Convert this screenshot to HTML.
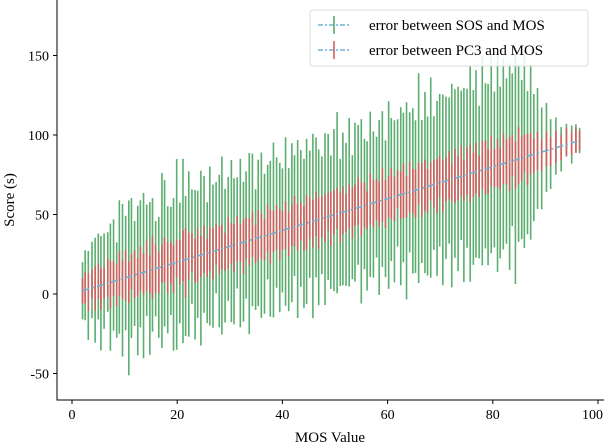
<!DOCTYPE html>
<html><head><meta charset="utf-8"><style>
body{margin:0;background:#fff;}
svg{display:block;font-family:"Liberation Serif",serif;}
</style></head><body>
<svg id="c" width="604" height="446"></svg>
<script>
const mosValues=[2,2.5,3.1,3.8,4.4,5,5.5,6.1,6.8,7.3,
7.9,8.5,9,9.6,10.2,10.8,11.3,11.9,12.5,13,
13.6,14.2,14.8,15.3,15.9,16.5,17.1,17.6,18.2,18.8,
19.3,19.9,20.5,21.1,21.6,22.2,22.8,23.4,23.9,24.5,
25.1,25.7,26.2,26.8,27.4,28,28.5,29.1,29.7,30.3,
30.8,31.4,32,32.6,33.1,33.7,34.3,34.9,35.4,36,
36.6,37.2,37.7,38.3,38.9,39.5,40,40.6,41.2,41.8,
42.3,42.9,43.5,44.1,44.6,45.2,45.8,46.4,46.9,47.5,
48.1,48.7,49.2,49.8,50.4,51,51.5,52.1,52.7,53.3,
53.8,54.4,55,55.6,56.1,56.7,57.3,57.9,58.4,59,
59.6,60.2,60.7,61.3,61.9,62.5,63,63.6,64.2,64.8,
65.3,65.9,66.5,67.1,67.6,68.2,68.8,69.4,69.9,70.5,
71.1,71.7,72.2,72.8,73.4,74,74.5,75.1,75.7,76.3,
76.8,77.4,78,78.6,79.1,79.7,80.3,80.9,81.4,82,
82.6,83.2,83.7,84.3,84.9,85.5,86,86.6,87.2,87.8,
88.5,89.3,90.2,91,92,93,94,95,95.8,96.5];
const centerOffset=[0,3,-4,5,-2,6,-5,2,7,-3,
4,-6,8,-1,3,-7,5,1,-4,6,
-2,7,-5,3,0,-6,4,8,-3,2,
-7,5,-1,6,-4,3,7,-5,1,-2,
6,-6,4,-3,8,-1,2,-5,5,3,
-4,7,0,-6,4,-2,6,-7,3,1,
-5,8,-3,2,6,-4,0,5,-7,3,
7,-2,4,-6,1,5,-3,8,-5,2,
-1,6,-4,3,7,-6,2,-2,5,-5,
4,8,-3,1,-7,6,-1,3,-4,7,
-6,2,5,-3,8,-1,4,-5,6,0,
-4,7,-2,3,-6,5,1,-3,8,-5,
2,6,-4,3,-1,7,-6,4,0,-3,
5,-7,6,2,-4,8,-2,3,-5,6,
1,-3,7,-6,4,-1,5,-4,2,-2,
3,-4,2,-3,1,-2,3,-1,2,0];
const sosErr=[18,22,28,24,33,27,36,30,25,40,
35,30,42,48,36,55,44,33,47,40,
52,35,48,42,30,38,55,46,40,34,
48,60,38,58,44,52,36,47,40,55,
43,38,50,45,35,48,56,42,39,51,
46,35,53,44,40,57,48,38,46,52,
44,36,49,55,41,47,39,53,45,50,
38,56,43,47,52,40,58,44,49,37,
54,46,42,51,57,40,48,45,53,39,
50,44,58,41,47,52,46,38,55,49,
43,59,45,51,40,56,47,62,44,52,
48,66,45,57,50,63,42,55,48,60,
51,46,64,53,58,47,61,50,68,55,
59,48,66,52,57,62,49,70,54,60,
52,65,48,72,56,50,62,45,55,40,
38,32,28,22,18,14,10,12,9,8];
const pc3Err=[8,10,12,9,14,11,13,10,12,15,
11,13,14,12,16,13,11,15,12,14,
13,16,12,20,15,13,12,14,16,13,
15,12,14,16,22,15,12,14,17,13,
15,12,14,16,13,15,14,12,16,13,
15,14,12,17,13,15,14,12,16,14,
13,15,17,13,14,16,12,15,14,13,
16,15,12,14,17,13,15,14,16,13,
15,12,17,14,13,16,15,12,14,16,
13,15,17,14,12,16,15,13,14,17,
15,13,16,14,12,15,17,13,16,14,
15,13,17,16,14,12,15,17,13,16,
14,15,12,17,14,16,13,15,18,14,
16,13,15,17,14,16,12,15,13,16,
14,17,13,15,18,14,12,16,13,11,
12,10,11,9,10,8,9,7,8,6];
const xTicks=[0,20,40,60,80,100];
const yTicks=[-50,0,50,100,150];
const NS="http://www.w3.org/2000/svg";
const svg=document.getElementById('c');
const X=v=>72+v*5.26;
const Y=v=>294-v*1.59;
function mk(t,a){const e=document.createElementNS(NS,t);for(const k in a)e.setAttribute(k,a[k]);svg.appendChild(e);return e;}
const g1=mk('g',{});


mosValues.forEach((m,i)=>{const c=m+centerOffset[i];const l=document.createElementNS(NS,'line');
l.setAttribute('x1',X(m));l.setAttribute('x2',X(m));l.setAttribute('y1',Y(c-sosErr[i]));l.setAttribute('y2',Y(c+sosErr[i]));
l.setAttribute('stroke','#5aae6e');l.setAttribute('stroke-width','1.6');


g1.appendChild(l);});
const g2=mk('g',{});


mosValues.forEach((m,i)=>{const c=m+centerOffset[i]*0.5;const l=document.createElementNS(NS,'line');
l.setAttribute('x1',X(m));l.setAttribute('x2',X(m));l.setAttribute('y1',Y(c-pc3Err[i]));l.setAttribute('y2',Y(c+pc3Err[i]));
l.setAttribute('stroke','#d0605e');l.setAttribute('stroke-width','1.6');


g2.appendChild(l);});
const ln=mk('line',{x1:X(mosValues[0]),y1:Y(mosValues[0]),x2:X(mosValues[mosValues.length-1]),y2:Y(mosValues[mosValues.length-1]),stroke:'#6fb3d8','stroke-width':1.6,'stroke-dasharray':'7 3 2 3'});


const ax=mk('path',{d:'M57,0 V400 H604',fill:'none',stroke:'#000','stroke-width':1});


xTicks.forEach(t=>{mk('line',{x1:X(t),x2:X(t),y1:400,y2:404,stroke:'#000'});
const last=t===xTicks[xTicks.length-1];
const tx=mk('text',{x:last?603:X(t),y:419,'text-anchor':last?'end':'middle','font-size':14});tx.textContent=t;

});
yTicks.forEach(t=>{mk('line',{x1:53,x2:57,y1:Y(t),y2:Y(t),stroke:'#000'});
const tx=mk('text',{x:49,y:Y(t)+5,'text-anchor':'end','font-size':14});tx.textContent=t;

});
const xt=mk('text',{x:330,y:442,'text-anchor':'middle','font-size':15});xt.textContent='MOS Value';


const yt=mk('text',{x:0,y:0,'text-anchor':'middle','font-size':15,transform:'translate(14,200) rotate(-90)'});yt.textContent='Score (s)';


const lg=mk('g',{});


mk('rect',{x:310,y:10,width:278,height:56,rx:3,fill:'rgba(255,255,255,0.85)',stroke:'#ddd'});
[['error between SOS and MOS','#5aae6e',25],['error between PC3 and MOS','#d0605e',50]].forEach(([s,c,y])=>{
mk('line',{x1:318,x2:350,y1:y,y2:y,stroke:'#6fb3d8','stroke-width':1.6,'stroke-dasharray':'5 2 2 2'});
mk('line',{x1:334,x2:334,y1:y-9,y2:y+9,stroke:c,'stroke-width':1.6});
const t=mk('text',{x:369,y:y+5,'font-size':15});t.textContent=s;

});
</script>
</body></html>
